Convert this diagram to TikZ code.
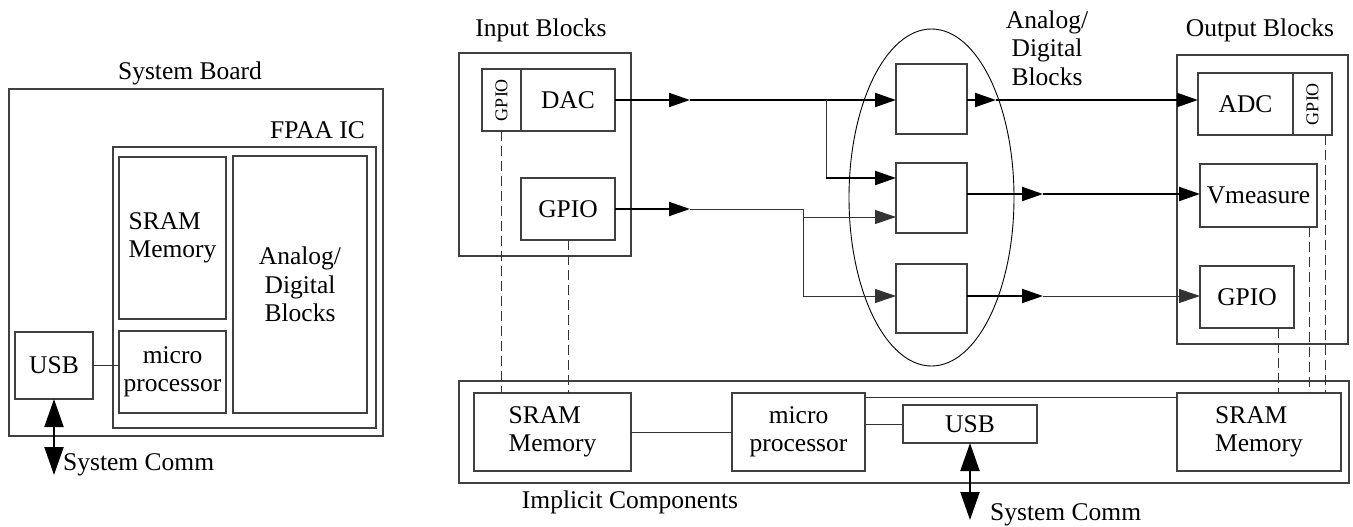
\documentclass[tikz,border=0pt]{standalone}
\usepackage{fontspec}
\setmainfont{Liberation Serif}
\usepackage{graphicx}
\usepackage{tikz}
\usetikzlibrary{arrows.meta, shapes.geometric}

\begin{document}
\begin{tikzpicture}[
    x=1pt, y=-1pt,
    font=\fontsize{25.5}{28.5}\selectfont,
    block/.style={rectangle, draw=black!75, line width=1.1pt, inner sep=0pt, outer sep=0pt, align=center},
    memblock/.style={block, align=left},
    tag/.style={block, font=\fontsize{18}{20}\selectfont},
    caption/.style={anchor=base, inner sep=0pt},
    wire/.style={draw=black!80, line width=1pt},
    sig/.style={-{Triangle[length=21pt,width=14pt]}, line width=2pt},
    thinsig/.style={wire, -{Triangle[length=21pt,width=14pt]}},
    comm/.style={{Triangle[length=28pt,width=19pt]}-{Triangle[length=28pt,width=19pt]}, line width=2pt},
    probe/.style={draw=black!80, line width=1pt, dash pattern=on 10pt off 5pt}
]
\useasboundingbox (0,0) rectangle (1353,527);

% system board
\node[caption] (boardcap) at (190,80) {System Board};
\node[block, minimum width=374pt, minimum height=347pt] (board) at (196,262.5) {};
\node[caption, anchor=base east] (fpaacap) at (365,138) {FPAA IC};
\node[block, minimum width=263pt, minimum height=281pt] (fpaa) at (244.5,287.5) {};
\node[memblock, minimum width=107pt, minimum height=162pt] (sram1) at (172.5,238) {SRAM\\Memory};
\node[block, minimum width=134pt, minimum height=257pt] (adblk) at (300,284.5) {Analog/\\Digital\\Blocks};
\node[block, minimum width=107pt, minimum height=82pt] (mpu1) at (172.5,372) {micro\\processor};
\node[block, minimum width=78pt, minimum height=67pt] (usb1) at (54,365.5) {USB};
\coordinate (comm1) at (54,475);
\node[caption, anchor=base west] (commcap1) at (63,470) {System Comm};

\draw[wire] (usb1.east) -- (usb1.east -| mpu1.west);
\draw[comm] (usb1.south) -- (comm1);

% input blocks
\node[caption] (incap) at (541,37) {Input Blocks};
\node[block, minimum width=172pt, minimum height=203pt] (inblk) at (545,154.5) {};
\node[tag, minimum width=39pt, minimum height=62pt] (gpioA) at (501.5,100) {\rotatebox{90}{GPIO}};
\node[block, minimum width=94pt, minimum height=62pt] (dac) at (568,100) {DAC};
\node[block, minimum width=94pt, minimum height=62pt] (gpioB) at (568,209) {GPIO};

% analog/digital blocks
\node[ellipse, draw, line width=0.9pt, inner sep=0pt, minimum width=165pt, minimum height=337pt] (adset) at (931.5,197.5) {};
\node[caption, anchor=center, align=center] (adcap) at (1047,48) {Analog/\\Digital\\Blocks};
\node[block, minimum width=71pt, minimum height=70pt] (ad1) at (931.5,99) {};
\node[block, minimum width=71pt, minimum height=70pt] (ad2) at (931.5,198) {};
\node[block, minimum width=71pt, minimum height=69pt] (ad3) at (931.5,298.5) {};

% output blocks
\node[caption] (outcap) at (1260,37) {Output Blocks};
\node[block, minimum width=171pt, minimum height=289pt] (outblk) at (1262.5,199.5) {};
\node[block, minimum width=95pt, minimum height=62pt] (adc) at (1245.5,104) {ADC};
\node[tag, minimum width=39pt, minimum height=62pt] (gpioC) at (1312.5,104) {\rotatebox{90}{GPIO}};
\node[block, minimum width=117pt, minimum height=63pt] (vmeas) at (1258.5,195.5) {Vmeasure};
\node[block, minimum width=94pt, minimum height=62pt] (gpioD) at (1247,297) {GPIO};

% implicit components
\node[block, minimum width=890pt, minimum height=102pt] (impl) at (904,432) {};
\node[caption] (implcap) at (630,508) {Implicit Components};
\node[memblock, minimum width=157pt, minimum height=78pt] (sram2) at (552.5,432) {SRAM\\Memory};
\node[block, minimum width=133pt, minimum height=78pt] (mpu2) at (798.5,432) {micro\\processor};
\node[block, minimum width=134pt, minimum height=38pt] (usb2) at (970,424) {USB};
\node[memblock, minimum width=164pt, minimum height=78pt] (sram3) at (1259,432) {SRAM\\Memory};
\coordinate (comm2) at (970,520);
\node[caption, anchor=base west] (commcap2) at (990,520) {System Comm};

% signal routing
\coordinate (dacmid) at (690,100);
\coordinate (dactap) at (826,100);
\coordinate (dacdrop) at (826,178);
\coordinate (gpiomid) at (690,209);
\coordinate (gpiotap) at (803,217);
\coordinate (gpiodrop) at (803,296);
\coordinate (outA) at (996,100);
\coordinate (outB) at (1043,194);
\coordinate (outC) at (1043,296);

\draw[sig] (dac.east) -- (dacmid);
\draw[sig] (dacmid) -- (dacmid -| ad1.west);
\draw[wire] (dactap) -- (dacdrop);
\draw[sig] (dacdrop) -- (dacdrop -| ad2.west);
\draw[sig] (gpioB.east) -- (gpiomid);
\draw[wire] (gpiomid) -| (gpiodrop);
\draw[thinsig] (gpiotap) -- (gpiotap -| ad2.west);
\draw[thinsig] (gpiodrop) -- (gpiodrop -| ad3.west);

\draw[sig] (outA -| ad1.east) -- (outA);
\draw[sig] (outA) -- (outA -| adc.west);
\draw[sig] (outB -| ad2.east) -- (outB);
\draw[sig] (outB) -- (outB -| vmeas.west);
\draw[sig] (outC -| ad3.east) -- (outC);
\draw[thinsig] (outC) -- (outC -| gpioD.west);

\coordinate (mpulink) at ([yshift=-4pt]mpu2.north east);
\draw[wire] (sram2) -- (mpu2);
\draw[wire] (usb2.west -| mpu2.east) -- (usb2.west);
\draw[wire] (mpulink) -- (mpulink -| sram3.west);
\draw[comm] (usb2.south) -- (comm2);

% configuration links
\coordinate (tapD) at ([xshift=-16pt]gpioD.south east);
\coordinate (tapV) at ([xshift=-8pt]vmeas.south east);
\coordinate (tapG) at ([xshift=-7pt]gpioC.south east);
\draw[probe] (gpioA.south) -- (gpioA.south |- sram2.north);
\draw[probe] (gpioB.south) -- (gpioB.south |- sram2.north);
\draw[probe] (tapD) -- (tapD |- sram3.north);
\draw[probe] (tapV) -- (tapV |- sram3.north);
\draw[probe] (tapG) -- (tapG |- sram3.north);
\end{tikzpicture}
\end{document}
